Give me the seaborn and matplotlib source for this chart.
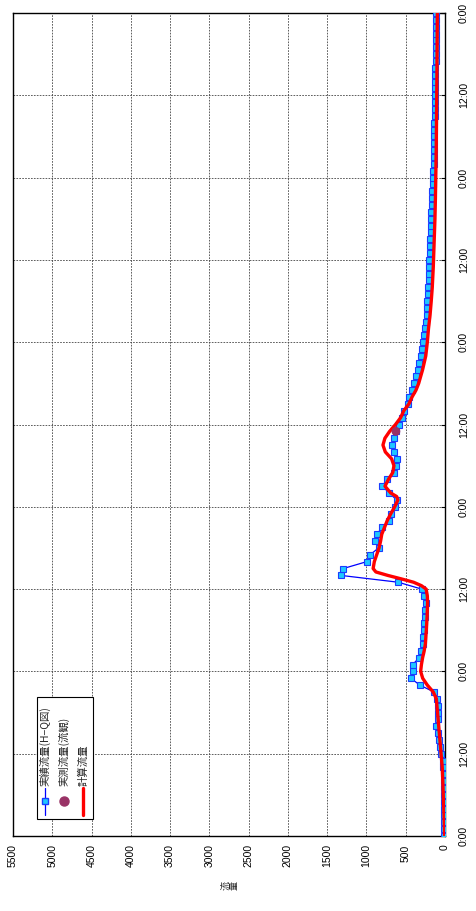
import numpy as np
import pandas as pd
import matplotlib
matplotlib.use('Agg')
import matplotlib.pyplot as plt
import seaborn as sns
from matplotlib.patches import Rectangle
from matplotlib.lines import Line2D

# H-Q flow (hourly)
hq_hours = list(range(121))
hq_flow = [10, 10, 12, 12, 12, 15, 15, 15, 15, 18,
           20, 30, 45, 60, 75, 90, 115, 95, 90, 95,
           105, 140, 320, 435, 405, 410, 330, 305, 285, 276,
           263, 263, 255, 250, 245, 263, 297, 594, 1328, 1294,
           997, 955, 845, 887, 866, 802, 709, 692, 636, 615,
           709, 798, 742, 649, 620, 615, 649, 679, 645, 624,
           589, 551, 522, 475, 458, 416, 390, 373, 348, 327,
           306, 293, 276, 263, 255, 246, 233, 233, 225, 221,
           212, 204, 204, 204, 200, 195, 191, 186, 182, 178,
           178, 174, 170, 166, 162, 155, 149, 149, 145, 140,
           140, 136, 136, 136, 134, 132, 130, 128, 125, 123,
           123, 122, 121, 120, 120, 118, 117, 116, 115, 115, 115]

# computed flow
calc_hours = [0, 2, 4, 6, 8, 10, 12, 14, 16, 18, 20, 21, 22, 23, 24, 25, 26, 27, 28,
              30, 32, 34, 35, 36, 36.5, 37, 37.5, 38, 38.5, 39, 40, 41, 42, 43, 44, 45,
              46, 47, 48, 49, 49.5, 50, 51, 52, 53, 54, 55, 56, 57, 58, 59, 60, 61,
              62, 63, 64, 65, 66, 68, 70, 72, 74, 76, 78, 80, 83, 86, 90, 93, 100,
              107, 114, 120]
calc_flow = [5, 10, 15, 22, 28, 35, 50, 65, 80, 95, 110, 150, 225, 284, 310, 300, 285, 265, 250,
             238, 228, 222, 225, 240, 300, 400, 560, 730, 880, 915, 900, 870, 840, 820, 805, 770,
             735, 690, 640, 600, 615, 690, 764, 720, 665, 650, 680, 760, 790, 765, 705, 630, 565,
             525, 460, 420, 370, 335, 285, 245, 225, 210, 190, 175, 162, 149, 140, 128, 122, 112,
             106, 101, 98]

# observed flow (flow observation)
obs_hours = [59.0]
obs_flow = [625]

flow_ticks = [0, 500, 1000, 1500, 2000, 2500, 3000, 3500, 4000, 4500, 5000, 5500]
time_ticks = [0, 12, 24, 36, 48, 60, 72, 84, 96, 108, 120]
time_labels = ['0:00', '12:00', '0:00', '12:00', '0:00', '12:00',
               '0:00', '12:00', '0:00', '12:00', '0:00']

legend_labels = ['実績流量(H−Q図)', '実測流量(流観)', '計算流量']

sns.set_theme(style='white')
plt.rcParams['font.family'] = ['Liberation Sans', 'Noto Sans CJK JP', 'DejaVu Sans']
cjk = ['Noto Sans CJK JP', 'DejaVu Sans']

W, H = 476, 911
fig = plt.figure(figsize=(W / 100, H / 100), dpi=100)
ax = fig.add_axes([13 / W, 1 - 836 / H, (445 - 13) / W, (836 - 13) / H])

hq = pd.DataFrame({'flow': hq_flow, 'hour': hq_hours})
calc = pd.DataFrame({'flow': calc_flow, 'hour': calc_hours})
obs = pd.DataFrame({'flow': obs_flow, 'hour': obs_hours})

sns.lineplot(data=hq, x='flow', y='hour', sort=False, estimator=None, ax=ax,
             color='#0000ff', linewidth=0.9, marker='s', markersize=4.3,
             markerfacecolor='#1ec8ff', markeredgecolor='#1a3cff', markeredgewidth=0.8,
             legend=False, zorder=3)
sns.lineplot(data=calc, x='flow', y='hour', sort=False, estimator=None, ax=ax,
             color='#ff0000', linewidth=2.4, legend=False, zorder=4)
sns.scatterplot(data=obs, x='flow', y='hour', ax=ax, color='#993366', s=40,
                edgecolor='none', legend=False, zorder=5)

ax.set_xlim(5500, 0)
ax.set_ylim(0, 120)
ax.set_xticks(flow_ticks)
ax.set_xticklabels([str(v) for v in flow_ticks])
ax.set_yticks(time_ticks)
ax.set_yticklabels(time_labels)
ax.yaxis.tick_right()
ax.tick_params(axis='x', direction='in', length=3, width=0.8, labelsize=7.5,
               labelrotation=90, pad=6, colors='black')
ax.tick_params(axis='y', direction='in', length=3, width=0.8, labelsize=7.5,
               labelrotation=90, pad=10, colors='black')
for lab in ax.get_yticklabels():
    lab.set_va('center')
    lab.set_ha('left')
ax.set_xlabel('')
ax.set_ylabel('')
ax.grid(True, color='#444444', linestyle=(0, (2, 1.5)), linewidth=0.6)
for sp in ax.spines.values():
    sp.set_color('black')
    sp.set_linewidth(1.0)

# axis title (rotated along with the chart)
fig.text(230 / W, 1 - 885 / H, '流\n量', rotation=90, ha='center', va='center',
         fontsize=6.5, family=cjk, linespacing=1.0)

# legend, drawn rotated by hand
fig.add_artist(Rectangle((37 / W, 1 - 819 / H), 56 / W, 122 / H, transform=fig.transFigure,
                         facecolor='white', edgecolor='black', linewidth=0.8, zorder=10))
fig.add_artist(Line2D([45 / W, 45 / W], [1 - 815 / H, 1 - 788 / H], transform=fig.transFigure,
                      color='#0000ff', linewidth=0.9, zorder=11))
fig.add_artist(Line2D([45 / W], [1 - 801 / H], transform=fig.transFigure, marker='s',
                      markersize=4.3, markerfacecolor='#1ec8ff', markeredgecolor='#1a3cff',
                      linestyle='none', zorder=12))
fig.add_artist(Line2D([64 / W], [1 - 801 / H], transform=fig.transFigure, marker='o',
                      markersize=6.5, color='#993366', linestyle='none', zorder=11))
fig.add_artist(Line2D([83 / W, 83 / W], [1 - 815 / H, 1 - 788 / H], transform=fig.transFigure,
                      color='#ff0000', linewidth=2.4, zorder=11))
for xc, lab in zip([45, 64, 83], legend_labels):
    fig.text(xc / W, 1 - 786 / H, lab, rotation=90, ha='center', va='bottom',
             fontsize=7.5, family=cjk, zorder=12)

fig.savefig('out.png', dpi=100)
